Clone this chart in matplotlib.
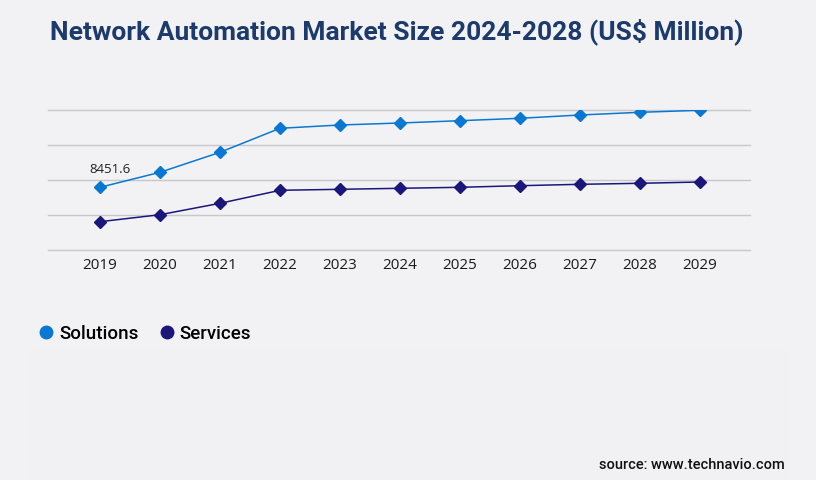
import numpy as np
import matplotlib.pyplot as plt
from matplotlib.lines import Line2D
from matplotlib.patches import Rectangle

# --- data (US$ million) ---
years = [2019, 2020, 2021, 2022, 2023, 2024, 2025, 2026, 2027, 2028, 2029]
solutions = [8451.6, 10474, 13170, 16405, 16850, 17120, 17430, 17753, 18198, 18562, 18832]
services = [3815, 4758, 6295, 8048, 8182, 8317, 8452, 8668, 8856, 8991, 9166]
grid_step = 4718

title = "Network Automation Market Size 2024-2028 (US$ Million)"
series_names = ["Solutions", "Services"]
colors = ["#0a78d2", "#1b167a"]
bg = "#f2f2f4"

fig = plt.figure(figsize=(8.16, 4.8), dpi=100)
fig.patch.set_facecolor(bg)

# faint lower panel
fig.patches.append(Rectangle((30 / 816, 0), 760 / 816, 130 / 480, transform=fig.transFigure,
                             facecolor="#f1f1f3", edgecolor="none", zorder=0))

ax = fig.add_axes([48 / 816, (480 - 250) / 480, (750 - 48) / 816, 140 / 480])
ax.set_facecolor("none")

for vals, col in zip([solutions, services], colors):
    ax.plot(years, vals, color=col, lw=1.1, marker="D", ms=6.5, zorder=3)

ax.set_xlim(2019 - 52 / 60, 2029 + 50 / 60)
ax.set_ylim(0, 4 * grid_step)
ax.set_yticks(np.arange(5) * grid_step)
ax.yaxis.grid(True, color="#c8c8cc", lw=1)
for gl in ax.get_ygridlines():
    gl.set_clip_on(False)
ax.set_axisbelow(True)
ax.tick_params(axis="y", left=False, labelleft=False)
ax.tick_params(axis="x", length=0, pad=6)
ax.set_xticks(years)
ax.set_xticklabels([str(y) for y in years], fontfamily="Open Sans", fontsize=11, color="#1a1a1a")
for s in ax.spines.values():
    s.set_visible(False)

# value label on first point
ax.annotate(f"{solutions[0]}", (years[0], solutions[0]), xytext=(-8, 8),
            textcoords="offset points", fontfamily="Open Sans", fontsize=9.5,
            color="#222222", ha="left", va="bottom")

fig.text(397 / 816, 1 - 32 / 480, title, ha="center", va="center",
         fontfamily="Roboto", fontweight="bold", fontsize=19, color="#1c3a6b")

# legend
handles = [Line2D([], [], ls="none", marker="o", ms=9, color=c) for c in colors]
fig.legend(handles, series_names, loc="center left", bbox_to_anchor=(18 / 816, 1 - 334 / 480),
           ncol=2, frameon=False, handletextpad=0.1, columnspacing=0.9, handlelength=1.2,
           prop={"family": "Roboto", "weight": "medium", "size": 13.5})

fig.text(785 / 816, 1 - 465 / 480, "source: www.technavio.com", ha="right", va="center",
         fontfamily="Roboto", fontweight="medium", fontsize=10.5, color="#111111")

fig.savefig("out.png", dpi=100, facecolor=bg)
